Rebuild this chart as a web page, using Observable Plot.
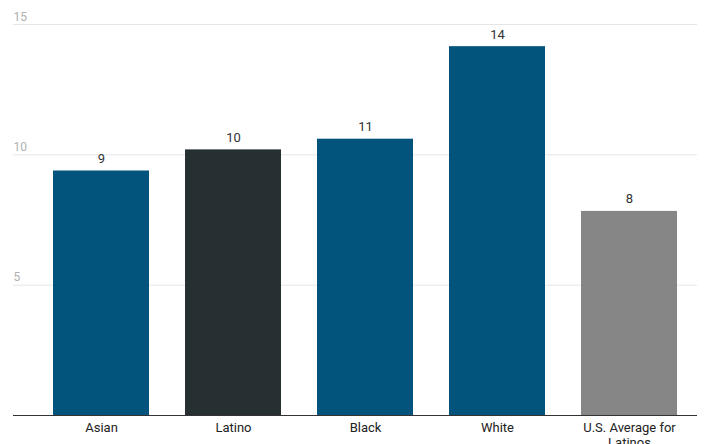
<!DOCTYPE html>
<html>
<head>
<meta charset="utf-8">
<script src="https://cdn.jsdelivr.net/npm/d3@7"></script>
<script src="https://cdn.jsdelivr.net/npm/@observablehq/plot@0.6"></script>
<style>
  html, body { margin: 0; padding: 0; background: #fff; }
  #chart svg { display: block; font-family: Roboto, "Noto Sans", sans-serif; }
</style>
</head>
<body>
<div id="chart"></div>
<script>
// Groups and their values
const groups = ["Asian", "Latino", "Black", "White", "U.S. Average for Latinos"];
const values = [9.38, 10.19, 10.6, 14.15, 7.83];
const barColors = ["#03547c", "#263032", "#03547c", "#03547c", "#868686"];
const yTicks = [5, 10, 15];
const groupLabels = {"U.S. Average for Latinos": "U.S. Average for\nLatinos"};

const data = groups.map((g, i) => ({group: g, value: values[i], color: barColors[i]}));

const chart = Plot.plot({
  width: 705,
  height: 444,
  marginLeft: 13,
  marginRight: 8,
  marginTop: 24,
  marginBottom: 29,
  style: {fontFamily: "Roboto, 'Noto Sans', sans-serif", background: "#fff"},
  x: {domain: groups, paddingInner: 0.275, paddingOuter: 0.22, align: 0.67, label: null, axis: null},
  y: {domain: [0, 15], label: null, axis: null},
  marks: [
    Plot.ruleY(yTicks, {stroke: "#e6e6e6", strokeWidth: 1}),
    Plot.text(yTicks, {
      y: d => d, frameAnchor: "left", text: d => String(d),
      textAnchor: "start", lineAnchor: "bottom", dy: -4,
      fill: "#b0b0b0", fontSize: 12
    }),
    Plot.barY(data, {x: "group", y: "value", fill: "color"}),
    Plot.text(data, {
      x: "group", y: "value", text: d => d3.format(".0f")(d.value),
      lineAnchor: "bottom", dy: -8, fill: "#333", fontSize: 13
    }),
    Plot.ruleY([0], {stroke: "#333", strokeWidth: 1}),
    Plot.axisX({
      tickSize: 0, tickPadding: 6, fontSize: 13, fill: "#222", lineHeight: 1.15,
      tickFormat: d => groupLabels[d] ?? d
    })
  ]
});
document.getElementById("chart").append(chart);
</script>
</body>
</html>
